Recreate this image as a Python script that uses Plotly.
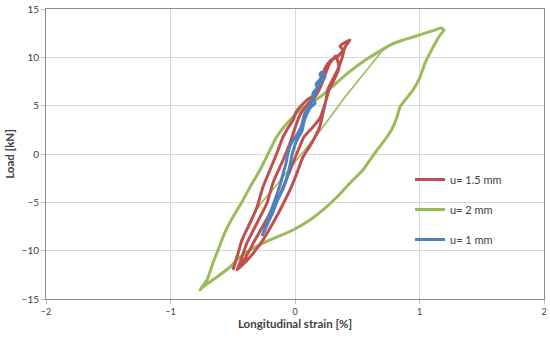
import plotly.graph_objects as go

# u = 2 mm (main loop)
g_x = [-0.763,-0.707,-0.659,-0.618,-0.578,-0.538,-0.498,-0.426,-0.361,-0.281,-0.201,-0.153,-0.096,0.016,0.120,0.201,0.305,0.386,0.498,0.602,0.683,0.763,0.867,0.948,1.044,1.124,1.173,1.197,1.165,1.141,1.084,1.044,1.004,0.948,0.884,0.843,0.819,0.787,0.739,0.659,0.602,0.546,0.442,0.337,0.225,0.120,-0.016,-0.201,-0.361,-0.466,-0.522,-0.627,-0.739,-0.763]
g_y = [-14.06,-13.03,-11.27,-9.93,-8.58,-7.45,-6.51,-4.96,-3.41,-1.65,0.41,1.65,2.69,4.24,5.27,5.89,7.03,7.96,9.10,10.03,10.65,11.27,11.79,12.10,12.51,12.82,13.03,12.82,12.31,11.79,10.44,9.41,7.96,6.62,5.58,4.86,3.83,2.79,1.76,0.41,-0.62,-1.65,-3.00,-4.45,-5.79,-6.83,-7.86,-8.89,-9.93,-10.96,-11.69,-12.72,-13.75,-14.06]
# u = 2 mm (thin first-loading segment)
g2_x = [-0.506,-0.466,-0.426,-0.378,-0.321,-0.265,-0.161,-0.040,0.064,0.201,0.402,0.610,0.699,0.763]
g2_y = [-11.79,-10.75,-9.10,-7.34,-6.00,-4.96,-3.41,-1.45,0.21,2.38,5.89,9.31,10.65,11.27]

# u = 1.5 mm
r_x = [-0.498,-0.466,-0.426,-0.361,-0.305,-0.257,-0.201,-0.145,-0.096,-0.056,-0.016,0.008,0.040,0.096,0.145,0.185,0.217,0.241,0.281,0.345,0.386,0.361,0.394,0.442,
       0.402,0.378,0.345,0.305,0.265,0.249,0.225,0.201,0.161,0.120,0.064,0.016,-0.040,-0.120,-0.177,-0.257,-0.361,-0.466,
       -0.442,-0.386,-0.305,-0.225,-0.177,-0.096,-0.040,0.000,0.040,0.104,0.153,0.201,0.241,0.281,0.329,
       0.353,0.313,0.273,0.241,0.201,0.137,0.072,0.016,-0.048,-0.129,-0.217,-0.321,-0.418,-0.458]
r_y = [-12.00,-10.65,-8.89,-7.14,-5.48,-3.41,-1.65,0.10,1.76,2.69,3.52,4.34,4.86,5.58,6.00,6.83,7.86,8.89,9.62,10.13,10.75,11.17,11.48,11.79,
       11.07,9.93,8.79,7.76,6.72,5.58,4.24,2.90,1.76,0.83,-0.31,-1.96,-3.72,-5.79,-7.14,-8.89,-10.65,-12.00,
       -11.27,-9.20,-7.14,-5.07,-3.00,-0.62,1.14,2.69,4.03,5.17,5.79,6.83,8.17,9.41,10.13,
       8.89,7.65,6.62,5.17,3.72,2.69,1.76,0.10,-1.96,-4.45,-6.51,-8.89,-11.17,-11.69]

# u = 1 mm
b_x = [-0.265,-0.241,-0.217,-0.185,-0.153,-0.120,-0.096,-0.072,-0.056,-0.040,-0.008,0.024,0.048,0.064,0.080,0.112,0.137,0.145,0.177,0.169,0.209,0.201,0.217,0.241,0.217,0.185,0.169,0.145,0.161,0.120,0.096,0.072,0.056,0.016,-0.008,-0.024,-0.040,-0.064,-0.096,-0.137,-0.177,-0.217,-0.257]
b_y = [-8.48,-7.65,-6.72,-5.58,-4.45,-3.21,-2.07,-0.93,0.10,0.83,1.55,2.17,2.79,3.52,4.24,4.86,5.58,6.31,6.83,7.24,7.86,8.27,8.48,7.96,7.55,7.03,6.41,5.79,5.27,4.76,4.14,3.31,2.38,1.45,0.62,-0.10,-1.14,-2.38,-3.62,-4.65,-6.00,-7.14,-8.27]

RED = "#C0504D"
GREEN = "#9BBB59"
BLUE = "#4F81BD"

fig = go.Figure()
fig.add_trace(go.Scatter(x=g2_x, y=g2_y, mode="lines", line=dict(color=GREEN, width=1.6),
                         showlegend=False, hoverinfo="skip"))
fig.add_trace(go.Scatter(x=g_x, y=g_y, mode="lines", name="u= 2 mm", legendrank=2, legendgroup="g",
                         line=dict(color=GREEN, width=3, shape="spline", smoothing=0.5)))
fig.add_trace(go.Scatter(x=r_x, y=r_y, mode="lines", name="u= 1.5 mm", legendrank=1, legendgroup="r",
                         line=dict(color=RED, width=3, shape="spline", smoothing=0.5)))
fig.add_trace(go.Scatter(x=b_x, y=b_y, mode="lines", name="u= 1 mm", legendrank=3, legendgroup="b",
                         line=dict(color=BLUE, width=3, shape="spline", smoothing=0.5)))

fig.update_layout(
    width=550, height=338,
    margin=dict(l=46, r=6, t=9, b=39, autoexpand=False),
    plot_bgcolor="white", paper_bgcolor="white",
    font=dict(family="Lato, Open Sans, sans-serif", color="#404040", size=10),
    legend=dict(x=0.731, y=0.462, xanchor="left", yanchor="top", bgcolor="rgba(0,0,0,0)",
                font=dict(size=11, color="#404040"), itemwidth=30, tracegroupgap=11,
                traceorder="grouped"),
    xaxis=dict(range=[-2, 2], tickvals=[-2, -1, 0, 1, 2], showgrid=True, gridcolor="#D9D9D9",
               zeroline=False, showline=True, linecolor="#8C8C8C", mirror=True, linewidth=1,
               ticks="outside", ticklen=4, tickcolor="#BFBFBF", tickfont=dict(size=9),
               automargin=False,
               title=dict(text="<b>Longitudinal strain [%]</b>", font=dict(size=11.5), standoff=4)),
    yaxis=dict(range=[-15, 15], tickvals=[-15, -10, -5, 0, 5, 10, 15], showgrid=True, gridcolor="#D9D9D9",
               zeroline=False, showline=True, linecolor="#8C8C8C", mirror=True, linewidth=1,
               ticks="outside", ticklen=4, tickcolor="#BFBFBF", tickfont=dict(size=10),
               automargin=False,
               title=dict(text="<b>Load [kN]</b>", font=dict(size=11.5), standoff=4)),
)

fig.write_html("out.html", config={"displayModeBar": False},
               post_script="document.body.style.margin='0px';")
